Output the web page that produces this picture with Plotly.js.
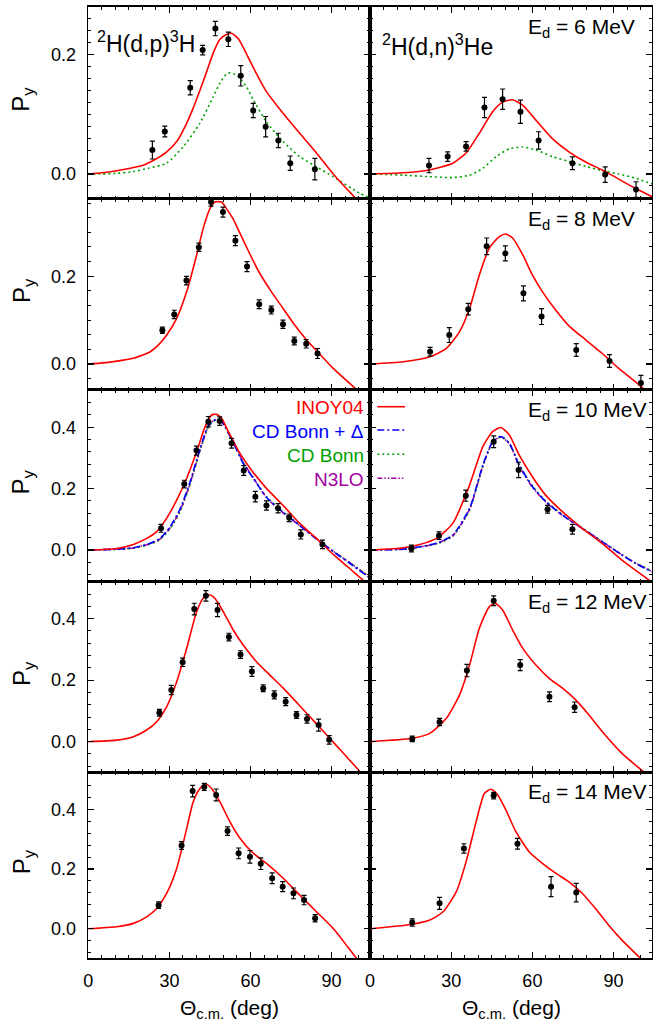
<!DOCTYPE html>
<html><head><meta charset="utf-8">
<script src="https://cdn.plot.ly/plotly-3.0.1.min.js"></script>
<style>html,body{margin:0;padding:0;background:#fff}</style>
</head><body><div id="chart" style="width:653px;height:1024px"></div>
<script>
// ---------- Tick labels / categories ----------
const xTickVals = [0, 30, 60, 90];
const yTickVals = [0.0, 0.2, 0.4];
const energies = ["6", "8", "10", "12", "14"];
const modelNames = ["INOY04", "CD Bonn + \u0394", "CD Bonn", "N3LO"];

// ---------- Row 1 (6 MeV) ----------
const d1L_x = [23.7, 28.3, 37.7, 42.3, 47.0, 51.8, 56.4, 61.0, 65.6, 70.3, 74.7, 83.8];
const d1L_y = [0.040, 0.071, 0.144, 0.207, 0.243, 0.225, 0.164, 0.106, 0.079, 0.056, 0.018, 0.008];
const d1L_e = [0.015, 0.009, 0.012, 0.008, 0.012, 0.012, 0.017, 0.012, 0.017, 0.012, 0.012, 0.018];
const c1L_x_inoy = [0, 5, 10, 15, 20, 25, 29, 33, 36.4, 38.8, 41.3, 43.8, 46.2, 48.7, 51.1, 53.0, 55.5, 58.6, 61.0, 65.9, 72.1, 78.2, 84.4, 90.6, 99.2, 104.2];
const c1L_y_inoy = [0, 0.002, 0.005, 0.009, 0.014, 0.025, 0.037, 0.056, 0.085, 0.110, 0.140, 0.171, 0.202, 0.225, 0.233, 0.235, 0.226, 0.200, 0.178, 0.1375, 0.101, 0.068, 0.035, 0.0, -0.042, -0.065];
const c1L_x_cdb = [0, 5, 10, 16.7, 22.2, 29, 35.2, 41.3, 46.2, 48.7, 51.1, 52.4, 54.8, 56.1, 58.6, 61, 65.9, 72.1, 78.2, 84.4, 90.6, 100.3, 104.2];
const c1L_y_cdb = [0, 0.0, 0.001, 0.004, 0.0095, 0.018, 0.046, 0.085, 0.129, 0.152, 0.167, 0.169, 0.165, 0.160, 0.145, 0.124, 0.087, 0.054, 0.029, 0.012, -0.0045, -0.032, -0.040];

const d1R_x = [21.8, 28.7, 35.5, 42.3, 49.0, 55.6, 62.3, 74.8, 86.9, 98.3];
const d1R_y = [0.014, 0.029, 0.046, 0.111, 0.125, 0.104, 0.056, 0.018, -0.001, -0.026];
const d1R_e = [0.012, 0.008, 0.008, 0.017, 0.017, 0.0195, 0.0145, 0.0106, 0.013, 0.013];
const c1R_x_inoy = [0, 12.3, 21.8, 30.6, 35.5, 40.4, 45.3, 49.0, 52.7, 56.4, 61.3, 67.4, 73.5, 79.7, 85.8, 88.2, 98.0, 104.2];
const c1R_y_inoy = [0, 0.002, 0.0067, 0.018, 0.035, 0.068, 0.104, 0.120, 0.124, 0.115, 0.090, 0.059, 0.037, 0.020, 0.0067, 0.001, -0.024, -0.038];
const c1R_x_cdb = [0, 12.3, 21.8, 30.6, 36.8, 41.7, 46.6, 51.5, 56.4, 61.3, 67.4, 73.5, 79.7, 85.8, 91.9, 98, 104.2];
const c1R_y_cdb = [0, -0.002, -0.0045, -0.006, -0.002, 0.0095, 0.029, 0.042, 0.045, 0.040, 0.029, 0.021, 0.0125, 0.0056, 0.0, -0.007, -0.0167];

// ---------- Row 2 (8 MeV) ----------
const d2L_x = [27.4, 31.8, 36.3, 40.9, 45.4, 49.8, 54.4, 58.7, 63.2, 67.7, 72.0, 76.2, 80.6, 84.8];
const d2L_y = [0.077, 0.113, 0.190, 0.266, 0.369, 0.346, 0.281, 0.222, 0.136, 0.123, 0.0905, 0.0525, 0.046, 0.024];
const d2L_e = [0.007, 0.0095, 0.0095, 0.0095, 0.0095, 0.0114, 0.0114, 0.0114, 0.010, 0.009, 0.0095, 0.0087, 0.0095, 0.0114];
const c2L_x_inoy = [0, 4.3, 10, 16.7, 22.9, 26.5, 29, 32.7, 36.4, 40.1, 42.5, 45, 46.8, 49.3, 51.1, 53.6, 56.1, 59.8, 63.2, 67.7, 72.0, 76.2, 80.6, 84.8, 90.6, 99.2, 104.2];
const c2L_y_inoy = [0, 0.002, 0.006, 0.013, 0.028, 0.047, 0.066, 0.104, 0.165, 0.249, 0.309, 0.354, 0.369, 0.369, 0.354, 0.330, 0.298, 0.250, 0.209, 0.165, 0.127, 0.090, 0.056, 0.028, -0.010, -0.058, -0.085];

const d2R_x = [22.2, 29.3, 36.3, 43.1, 50.0, 56.7, 63.4, 76.2, 88.5, 100.1];
const d2R_y = [0.028, 0.066, 0.125, 0.268, 0.252, 0.161, 0.108, 0.032, 0.007, -0.043];
const d2R_e = [0.010, 0.017, 0.013, 0.019, 0.017, 0.017, 0.018, 0.0145, 0.0145, 0.017];
const c2R_x_inoy = [0, 12.3, 22.2, 28.2, 33.1, 36.8, 40.4, 44.1, 47.8, 50.2, 52.7, 56.4, 60, 63.7, 68.6, 73.5, 79.7, 85.8, 88.5, 91.9, 98, 102.3, 104.2];
const c2R_y_inoy = [0, 0.0053, 0.0167, 0.0357, 0.0737, 0.127, 0.203, 0.264, 0.290, 0.296, 0.287, 0.249, 0.203, 0.165, 0.123, 0.087, 0.055, 0.024, 0.009, -0.010, -0.040, -0.063, -0.072];

// ---------- Row 3 (10 MeV) ----------
const d3L_x = [26.9, 35.5, 40.0, 44.4, 48.6, 53.0, 57.5, 61.8, 65.9, 70.2, 74.3, 78.6, 86.6];
const d3L_y = [0.071, 0.215, 0.324, 0.418, 0.420, 0.348, 0.259, 0.174, 0.145, 0.136, 0.105, 0.051, 0.0185];
const d3L_e = [0.013, 0.0125, 0.0147, 0.017, 0.0136, 0.016, 0.016, 0.017, 0.015, 0.015, 0.0125, 0.015, 0.0136];
const c3L_x_inoy = [0, 10.5, 16.7, 21.6, 25.3, 29, 32.7, 36.4, 40.1, 43.2, 45.6, 47.5, 49.3, 52.4, 56.1, 61.0, 65.9, 72.1, 78.2, 84.4, 90.6, 96.7, 101.6, 104.2];
const c3L_y_inoy = [0, 0.0054, 0.0185, 0.038, 0.060, 0.104, 0.163, 0.234, 0.321, 0.402, 0.440, 0.442, 0.429, 0.375, 0.315, 0.253, 0.201, 0.145, 0.087, 0.038, -0.014, -0.060, -0.098, -0.115];
const c3L_x_mod = [0, 10.5, 16.7, 22.9, 26.5, 30.2, 33.9, 37.6, 41.3, 44.4, 46.8, 49.3, 53.6, 57.3, 61.0, 65.9, 72.1, 78.2, 84.4, 90.6, 96.7, 104.2];
const c3L_y_cdbd = [0, 0.003, 0.0076, 0.022, 0.038, 0.075, 0.133, 0.221, 0.329, 0.405, 0.424, 0.418, 0.350, 0.282, 0.234, 0.172, 0.122, 0.080, 0.036, -0.005, -0.043, -0.092];
const c3L_y_cdb = [0, 0.002, 0.006, 0.019, 0.034, 0.069, 0.124, 0.212, 0.322, 0.400, 0.422, 0.417, 0.352, 0.285, 0.236, 0.174, 0.124, 0.082, 0.038, -0.004, -0.040, -0.088];
const c3L_y_n3lo = [0, 0.003, 0.007, 0.021, 0.036, 0.072, 0.128, 0.216, 0.325, 0.403, 0.424, 0.419, 0.355, 0.286, 0.236, 0.171, 0.121, 0.080, 0.037, -0.004, -0.041, -0.089];

const d3R_x = [15.3, 25.5, 35.4, 45.7, 54.9, 65.6, 74.8];
const d3R_y = [0.005, 0.047, 0.177, 0.353, 0.261, 0.133, 0.068];
const d3R_e = [0.011, 0.012, 0.018, 0.019, 0.025, 0.0125, 0.016];
const c3R_x_inoy = [0, 12.3, 18.4, 24.5, 30.6, 36.8, 41.7, 45.3, 48.4, 51.5, 55.1, 60.0, 64.9, 71.1, 78.4, 85.8, 93.1, 98, 102.9, 104.2];
const c3R_y_inoy = [0, 0.0076, 0.018, 0.038, 0.087, 0.212, 0.337, 0.386, 0.399, 0.375, 0.310, 0.239, 0.179, 0.125, 0.071, 0.022, -0.033, -0.065, -0.096, -0.104];
const c3R_x_mod = [0, 12.3, 18.4, 24.5, 30.6, 36.8, 41.7, 45.3, 48.4, 51.5, 55.1, 60.0, 64.9, 71.1, 78.4, 85.8, 93.1, 98, 104.2];
const c3R_y_cdbd = [0, 0.003, 0.011, 0.022, 0.049, 0.136, 0.277, 0.353, 0.370, 0.348, 0.277, 0.207, 0.158, 0.114, 0.071, 0.027, -0.016, -0.043, -0.071];
const c3R_y_cdb = [0, 0.003, 0.010, 0.020, 0.045, 0.130, 0.272, 0.350, 0.368, 0.347, 0.279, 0.209, 0.160, 0.116, 0.072, 0.028, -0.015, -0.041, -0.068];
const c3R_y_n3lo = [0, 0.003, 0.010, 0.021, 0.047, 0.133, 0.274, 0.352, 0.369, 0.346, 0.275, 0.205, 0.157, 0.113, 0.070, 0.027, -0.016, -0.042, -0.070];

// ---------- Row 4 (12 MeV) ----------
const d4L_x = [26.3, 30.7, 34.9, 39.2, 43.5, 47.8, 52.0, 56.3, 60.5, 64.7, 68.8, 73.0, 77.0, 80.9, 85.2, 89.1];
const d4L_y = [0.094, 0.168, 0.258, 0.431, 0.474, 0.428, 0.340, 0.283, 0.228, 0.174, 0.152, 0.130, 0.087, 0.074, 0.054, 0.006];
const d4L_e = [0.011, 0.015, 0.0136, 0.019, 0.017, 0.0217, 0.0125, 0.0125, 0.016, 0.011, 0.013, 0.013, 0.011, 0.0136, 0.0195, 0.0136];
const c4L_x_inoy = [0, 10.5, 16.7, 21.6, 25.3, 29, 32.7, 36.4, 40.1, 42.5, 45, 46.8, 49.9, 53.6, 57.3, 62.2, 67.1, 72.1, 78.2, 84.4, 89.3, 94.2, 100.4, 104.2];
const c4L_y_inoy = [0, 0.005, 0.0163, 0.038, 0.065, 0.114, 0.195, 0.304, 0.423, 0.466, 0.477, 0.466, 0.423, 0.363, 0.314, 0.260, 0.217, 0.174, 0.117, 0.058, 0.011, -0.036, -0.096, -0.132];

const d4R_x = [15.6, 25.7, 35.8, 45.7, 55.5, 66.3, 75.6];
const d4R_y = [0.009, 0.064, 0.231, 0.458, 0.249, 0.146, 0.112];
const d4R_e = [0.009, 0.012, 0.020, 0.016, 0.018, 0.016, 0.017];
const c4R_x_inoy = [0, 15.6, 22.1, 28.2, 33.1, 36.8, 40.4, 44.1, 46.3, 49, 52.7, 56.4, 61.3, 66.2, 71.1, 76, 80.9, 85.8, 93.1, 101.1, 104.2];
const c4R_y_inoy = [0, 0.011, 0.027, 0.076, 0.152, 0.249, 0.369, 0.439, 0.450, 0.428, 0.363, 0.304, 0.249, 0.206, 0.174, 0.136, 0.087, 0.033, -0.038, -0.098, -0.12];

// ---------- Row 5 (14 MeV) ----------
const d5L_x = [26.0, 34.5, 38.6, 42.9, 47.3, 51.5, 55.6, 59.8, 63.8, 68.0, 71.9, 75.9, 79.8, 83.9];
const d5L_y = [0.079, 0.279, 0.461, 0.475, 0.448, 0.327, 0.2525, 0.241, 0.218, 0.169, 0.141, 0.1185, 0.096, 0.035];
const d5L_e = [0.011, 0.013, 0.0195, 0.012, 0.020, 0.0145, 0.018, 0.021, 0.0195, 0.018, 0.017, 0.018, 0.0156, 0.012];
const c5L_x_inoy = [0, 10.5, 16.7, 21.6, 25.3, 29, 32.7, 36.4, 38.8, 41.3, 43.4, 45.6, 48.7, 52.4, 56.1, 61, 65.9, 72.1, 78.2, 84.4, 90.6, 99.2, 104.2];
const c5L_y_inoy = [0, 0.0067, 0.018, 0.040, 0.068, 0.119, 0.202, 0.336, 0.425, 0.470, 0.485, 0.470, 0.425, 0.358, 0.303, 0.253, 0.219, 0.169, 0.113, 0.057, 0.001, -0.099, -0.157];

const d5R_x = [15.6, 25.7, 34.7, 45.7, 54.5, 66.9, 76.2];
const d5R_y = [0.021, 0.085, 0.269, 0.446, 0.285, 0.141, 0.121];
const d5R_e = [0.012, 0.020, 0.0156, 0.011, 0.018, 0.0335, 0.031];
const c5R_x_inoy = [0, 15.6, 22.1, 27, 31.9, 35.5, 39.2, 42.3, 44.7, 47.2, 50.2, 53.9, 58.8, 63.7, 68.6, 73.5, 78.4, 83.3, 88.2, 93.1, 99.9, 104.2];
const c5R_y_inoy = [0, 0.015, 0.029, 0.057, 0.124, 0.224, 0.358, 0.4536, 0.467, 0.448, 0.398, 0.325, 0.258, 0.219, 0.186, 0.157, 0.119, 0.068, 0.012, -0.038, -0.099, -0.14];

// ---------- Styles ----------
const FONT = "Liberation Sans, Arial, Helvetica, sans-serif";
const styles = {
  inoy: {color: "#ff0000", width: 1.6, dash: "solid"},
  cdbd: {color: "#0000ff", width: 1.6, dash: "7px,3px,2px,3px"},
  cdb:  {color: "#00a000", width: 1.6, dash: "2px,3px"},
  n3lo: {color: "#a000a0", width: 1.6, dash: "5px,2px,1.5px,2px,1.5px,2px"}
};

// Geometry (pixels)
const W = 653, H = 1024;
const colX = [[88.3, 370], [370, 652]];
const rowY = [[7, 198.5], [198.5, 389.5], [389.5, 581.7], [581.7, 772.3], [772.3, 958.3]];
const yRanges = [[-0.041, 0.279], [-0.058, 0.377], [-0.103, 0.523], [-0.0995, 0.520], [-0.099, 0.524]];
const yMinor = [0.02, 0.2/6, 0.04, 0.04, 0.04];

const panels = [
  {r:0,c:0,d:[d1L_x,d1L_y,d1L_e],cv:[[c1L_x_cdb,c1L_y_cdb,"cdb"],[c1L_x_inoy,c1L_y_inoy,"inoy"]]},
  {r:0,c:1,d:[d1R_x,d1R_y,d1R_e],cv:[[c1R_x_cdb,c1R_y_cdb,"cdb"],[c1R_x_inoy,c1R_y_inoy,"inoy"]]},
  {r:1,c:0,d:[d2L_x,d2L_y,d2L_e],cv:[[c2L_x_inoy,c2L_y_inoy,"inoy"]]},
  {r:1,c:1,d:[d2R_x,d2R_y,d2R_e],cv:[[c2R_x_inoy,c2R_y_inoy,"inoy"]]},
  {r:2,c:0,d:[d3L_x,d3L_y,d3L_e],cv:[[c3L_x_mod,c3L_y_cdb,"cdb"],[c3L_x_mod,c3L_y_n3lo,"n3lo"],[c3L_x_mod,c3L_y_cdbd,"cdbd"],[c3L_x_inoy,c3L_y_inoy,"inoy"]]},
  {r:2,c:1,d:[d3R_x,d3R_y,d3R_e],cv:[[c3R_x_mod,c3R_y_cdb,"cdb"],[c3R_x_mod,c3R_y_n3lo,"n3lo"],[c3R_x_mod,c3R_y_cdbd,"cdbd"],[c3R_x_inoy,c3R_y_inoy,"inoy"]]},
  {r:3,c:0,d:[d4L_x,d4L_y,d4L_e],cv:[[c4L_x_inoy,c4L_y_inoy,"inoy"]]},
  {r:3,c:1,d:[d4R_x,d4R_y,d4R_e],cv:[[c4R_x_inoy,c4R_y_inoy,"inoy"]]},
  {r:4,c:0,d:[d5L_x,d5L_y,d5L_e],cv:[[c5L_x_inoy,c5L_y_inoy,"inoy"]]},
  {r:4,c:1,d:[d5R_x,d5R_y,d5R_e],cv:[[c5R_x_inoy,c5R_y_inoy,"inoy"]]}
];

const traces = [];
const layout = {
  width: W, height: H,
  margin: {l:0, r:0, t:0, b:0},
  paper_bgcolor: "#fff", plot_bgcolor: "#fff",
  showlegend: false,
  font: {family: FONT, size: 18, color: "#000"},
  annotations: [], shapes: []
};
const px2x = p => p / W;
const py2y = p => 1 - p / H;

panels.forEach((p, i) => {
  const k = i + 1;
  const xa = k === 1 ? "x" : "x" + k, ya = k === 1 ? "y" : "y" + k;
  const xk = k === 1 ? "xaxis" : "xaxis" + k, yk = k === 1 ? "yaxis" : "yaxis" + k;
  p.cv.forEach(([cx, cy, s]) => {
    traces.push({x: cx, y: cy, xaxis: xa, yaxis: ya, mode: "lines", type: "scatter",
      line: {color: styles[s].color, width: styles[s].width, dash: styles[s].dash, shape: "spline", smoothing: 0.6},
      hoverinfo: "skip"});
  });
  traces.push({x: p.d[0], y: p.d[1], xaxis: xa, yaxis: ya, mode: "markers", type: "scatter",
    marker: {color: "#000", size: 6},
    error_y: {type: "data", array: p.d[2], visible: true, color: "#000", thickness: 1.2, width: 2.5},
    hoverinfo: "skip"});
  const common = {showline: true, linecolor: "#000", linewidth: 1.6, mirror: "ticks",
    ticks: "inside", ticklen: 6, tickwidth: 1.2, tickcolor: "#000",
    showgrid: false, zeroline: false, fixedrange: true,
    tickfont: {family: FONT, size: 18, color: "#000"}};
  layout[xk] = Object.assign({}, common, {
    domain: [px2x(colX[p.c][0]), px2x(colX[p.c][1])],
    range: [0, 104.2], tickvals: xTickVals, ticktext: xTickVals.map(String),
    anchor: ya, showticklabels: p.r === 4, ticklabelstandoff: 5,
    minor: {dtick: 5, tick0: 0, ticks: "inside", ticklen: 3, tickwidth: 1, tickcolor: "#000", showgrid: false}
  });
  layout[yk] = Object.assign({}, common, {
    domain: [py2y(rowY[p.r][1]), py2y(rowY[p.r][0])],
    range: yRanges[p.r], tickvals: yTickVals, ticktext: yTickVals.map(v => v.toFixed(1)),
    anchor: xa, showticklabels: p.c === 0, ticklabelstandoff: 7,
    minor: {dtick: yMinor[p.r], tick0: 0, ticks: "inside", ticklen: 3, tickwidth: 1, tickcolor: "#000", showgrid: false}
  });
  // y title
  if (p.c === 0) {
    layout.annotations.push({xref: "paper", yref: "paper", x: px2x(23), y: py2y((rowY[p.r][0] + rowY[p.r][1]) / 2 - 3),
      text: "P<sub>y</sub>", showarrow: false, textangle: -90, xanchor: "center", yanchor: "middle",
      font: {family: FONT, size: 24, color: "#000"}});
  }
  // energy label
  if (p.c === 1) {
    layout.annotations.push({xref: "paper", yref: "paper", x: px2x(526), y: py2y(rowY[p.r][0] + 21),
      text: "E<sub>d</sub> = " + energies[p.r] + " MeV", showarrow: false, xanchor: "left", yanchor: "middle",
      font: {family: FONT, size: 21, color: "#000"}});
  }
});

// reaction labels
layout.annotations.push({xref: "paper", yref: "paper", x: px2x(95), y: py2y(42),
  text: "<sup>2</sup>H(d,p)<sup>3</sup>H", showarrow: false, xanchor: "left", yanchor: "middle",
  font: {family: FONT, size: 23, color: "#000"}});
layout.annotations.push({xref: "paper", yref: "paper", x: px2x(380), y: py2y(45),
  text: "<sup>2</sup>H(d,n)<sup>3</sup>He", showarrow: false, xanchor: "left", yanchor: "middle",
  font: {family: FONT, size: 23, color: "#000"}});

// x titles
[0, 1].forEach(c => {
  layout.annotations.push({xref: "paper", yref: "paper", x: px2x((colX[c][0] + colX[c][1]) / 2), y: py2y(1009),
    text: "\u0398<sub>c.m.</sub> (deg)", showarrow: false, xanchor: "center", yanchor: "middle",
    font: {family: FONT, size: 21, color: "#000"}});
});

// legend (text right-aligned in left panel, line samples in right panel)
const legKeys = ["inoy", "cdbd", "cdb", "n3lo"];
const legY = [406.7, 430, 454.3, 478.3];
legKeys.forEach((key, j) => {
  layout.annotations.push({xref: "paper", yref: "paper", x: px2x(366), y: py2y(legY[j] + 1),
    text: modelNames[j], showarrow: false, xanchor: "right", yanchor: "middle",
    font: {family: FONT, size: 19, color: styles[key].color}});
  layout.shapes.push({type: "line", xref: "paper", yref: "paper",
    x0: px2x(377.3), x1: px2x(405), y0: py2y(legY[j]), y1: py2y(legY[j]),
    line: {color: styles[key].color, width: styles[key].width, dash: styles[key].dash}});
});

Plotly.newPlot("chart", traces, layout, {staticPlot: true, displayModeBar: false});
</script>
</body></html>
